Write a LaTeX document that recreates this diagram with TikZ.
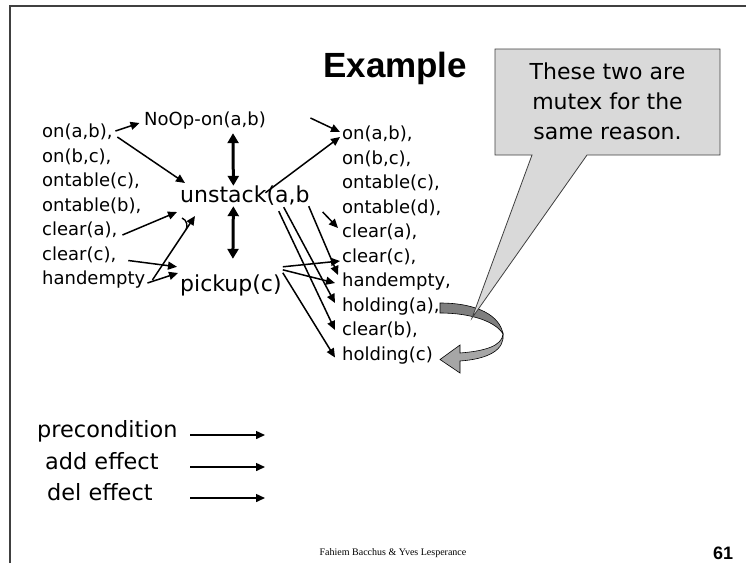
\documentclass[tikz,border=0pt]{standalone}
\usepackage{fontspec}
\setmainfont{DejaVu Sans}
\newfontfamily\headfont{Liberation Sans}
\newfontfamily\footfont{Liberation Serif}
\usetikzlibrary{arrows.meta}
\definecolor{framegray}{HTML}{404040}
\definecolor{calloutfill}{HTML}{D9D9D9}
\definecolor{ribbondark}{HTML}{7F7F7F}
\definecolor{ribbonlight}{HTML}{A6A6A6}
\begin{document}
\begin{tikzpicture}[x=1pt,y=-1pt,
  lit/.style={inner sep=0pt, anchor=west, text height=0.75em, text depth=0.25em,
    font=\fontsize{18}{20}\selectfont},
  act/.style={inner sep=0pt, anchor=west, text height=0.75em, text depth=0.25em,
    font=\fontsize{22}{24}\selectfont},
  legendtext/.style={inner sep=0pt, anchor=west, text height=0.75em, text depth=0.25em,
    font=\fontsize{22.4}{24}\selectfont},
  link/.style={line width=1.5pt, -{Triangle[length=9pt,width=8pt]}},
  mutexlink/.style={line width=3pt,
    {Triangle[length=10pt,width=11pt]}-{Triangle[length=10pt,width=11pt]}}
]
\useasboundingbox (0,0) rectangle (746,563);
\fill[white] (0,0) rectangle (746,563);
\draw[framegray, line width=1.6pt] (10,563) -- (10,6) -- (746,6);

% title
\node[anchor=base west, inner sep=0pt, font=\headfont\bfseries\fontsize{35}{40}\selectfont]
  (title) at (323,77) {Example};

% state level 0
\node[lit] (L1) at (42,135)   {on(a,b),};
\node[lit] (L2) at (42,159.5) {on(b,c),};
\node[lit] (L3) at (42,184)   {ontable(c),};
\node[lit] (L4) at (42,208.5) {ontable(b),};
\node[lit] (L5) at (42,233)   {clear(a),};
\node[lit] (L6) at (42,257.5) {clear(c),};
\node[lit] (L7) at (42,282)   {handempty};

% action level
\node[lit, anchor=center] (noop) at (205,123) {NoOp-on(a,b)};
\node[act] (unstack) at (180,200) {unstack(a,b};
\node[act] (pickup) at (180,289) {pickup(c)};

% state level 1
\node[lit] (R1)  at (342,137)   {on(a,b),};
\node[lit] (R2)  at (342,161.5) {on(b,c),};
\node[lit] (R3)  at (342,186)   {ontable(c),};
\node[lit] (R4)  at (342,210.5) {ontable(d),};
\node[lit] (R5)  at (342,235)   {clear(a),};
\node[lit] (R6)  at (342,259.5) {clear(c),};
\node[lit] (R7)  at (342,284)   {handempty,};
\node[lit] (R8)  at (342,308.5) {holding(a),};
\node[lit] (R9)  at (342,333)   {clear(b),};
\node[lit] (R10) at (342,357.5) {holding(c)};

% preconditions
\draw[link] ([shift={(2.6,-4)}]L1.east) -- ([shift={(-4.5,0)}]noop.west);
\draw[link] ([shift={(4.6,2)}]L1.east) -- ([shift={(5,-17)}]unstack.west);
\draw[link] ([shift={(4.8,2)}]L5.east) -- ([shift={(-3,12)}]unstack.west);
\draw[link] ([shift={(11.8,3)}]L6.east) -- ([shift={(-3,-17)}]pickup.north west);
\draw[link] ([shift={(2,1)}]L7.east) -- ([shift={(-2,-16)}]pickup.west);
\draw[link] ([shift={(7,-2)}]L7.east) -- ([shift={(15,16)}]unstack.west);
\draw[line width=1.4pt] (182,218) .. controls (187,220) and (188,226) .. (186,230);

% mutex between actions
\draw[mutexlink] ([shift={(28,5)}]noop.south) -- ([shift={(-11.5,-9)}]unstack.north);
\draw[mutexlink] ([shift={(-11.5,1)}]unstack.south) -- ([shift={(2,-25)}]pickup.north);

% effects
\draw[link] ([shift={(44.5,-5)}]noop.east) -- ([shift={(-2,-5)}]R1.west);
\draw[link] ([shift={(20.5,-2)}]unstack.north) -- ([shift={(-2,0)}]R1.west);
\draw[link] ([shift={(13,12)}]unstack.east) -- ([shift={(-4,-7)}]R5.west);
\draw[link] ([shift={(-1,1)}]unstack.south east) -- ([shift={(-4,-9)}]R7.west);
\draw[link] ([shift={(-26,2)}]unstack.south east) -- ([shift={(-7,-5.5)}]R8.west);
\draw[link] ([shift={(-31,6)}]unstack.south east) -- ([shift={(-7,-3)}]R9.west);
\draw[link] ([shift={(1,-17)}]pickup.north east) -- ([shift={(-2,1.5)}]R6.west);
\draw[link] ([shift={(1,-14)}]pickup.north east) -- ([shift={(-7,-1)}]R7.west);
\draw[link] ([shift={(1,-11)}]pickup.north east) -- ([shift={(-7,0)}]R10.west);

% curved block arrow from holding(a) to holding(c)
\fill[ribbondark, draw=black, line width=0.6pt]
  (440,303) .. controls (478,303) and (500,316) .. (503,334)
  .. controls (496,322) and (472,313) .. (440,313) -- cycle;
\fill[ribbonlight, draw=black, line width=0.6pt]
  (503,334) .. controls (502,346) and (485,351) .. (460,353)
  -- (460,345) -- (440,359.5) -- (460,373) -- (460,361)
  .. controls (488,359) and (505,350) .. (503,334) -- cycle;

% callout
\path[draw=framegray, line width=0.8pt, fill=calloutfill]
  (495,49) -- (720,49) -- (720,155) -- (587,155) -- (472,318) -- (532,155)
  -- (495,155) -- cycle;
\node[font=\fontsize{22}{30}\selectfont, align=center, inner sep=0pt]
  (note) at (607.5,101) {These two are\\mutex for the\\same reason.};

% legend
\node[legendtext] (pre) at (37,435) {precondition};
\node[legendtext] (add) at (45,467) {add effect};
\node[legendtext] (del) at (47,498) {del effect};
\coordinate (preA) at (190,435); \coordinate (preB) at (265,435);
\coordinate (addA) at (190,467); \coordinate (addB) at (265,467);
\coordinate (delA) at (190,498); \coordinate (delB) at (265,498);
\draw[link] (preA) -- (preB);
\draw[link] (addA) -- (addB);
\draw[link] (delA) -- (delB);

% footer
\node[font=\footfont\fontsize{10}{12}\selectfont, inner sep=0pt] (credit) at (393,553)
  {Fahiem Bacchus \& Yves Lesperance};
\node[font=\headfont\bfseries\fontsize{18}{20}\selectfont, inner sep=0pt] (pageno) at (723,553) {61};
\end{tikzpicture}
\end{document}
